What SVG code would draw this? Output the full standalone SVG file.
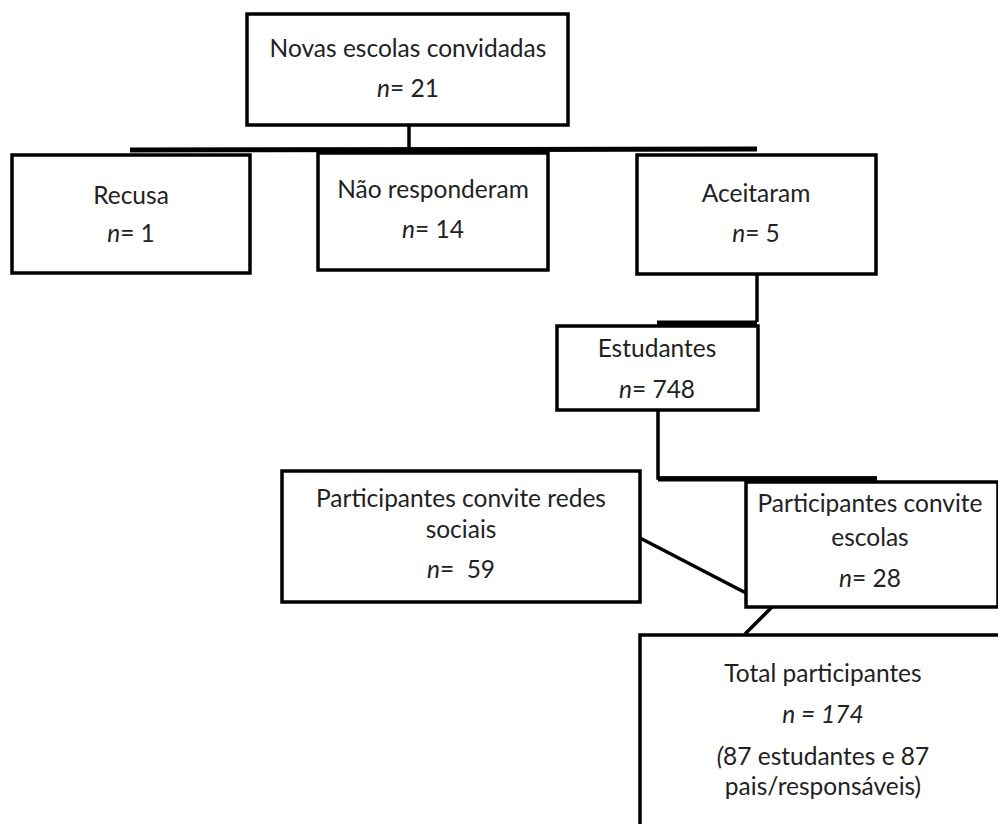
<svg xmlns="http://www.w3.org/2000/svg" width="998" height="824" viewBox="0 0 998 824">
<style>
.box{fill:#fff;stroke:#000;stroke-width:3.5}
.c{fill:none;stroke:#000;stroke-width:3.5}
.ct{fill:none;stroke:#000;stroke-width:5}
text{font-family:Lato,"Open Sans","Liberation Sans",sans-serif;font-size:24.5px;fill:#222;text-anchor:middle}
.i{font-style:italic}
</style>
<rect width="998" height="824" fill="#fff"/>
<g id="connectors">
<polyline class="c" points="409,125 409,148"/>
<polyline class="ct" points="130,150 757,149"/>
<polyline class="c" points="757,274 757,322"/>
<polyline class="ct" points="657,323 757,323"/>
<polyline class="c" points="658,410 658,478 877,478"/>
<polyline class="ct" points="658,479 877,479"/>
<line class="c" x1="640" y1="538" x2="746" y2="593"/>
<line class="c" x1="772" y1="607" x2="745" y2="634"/>
</g>
<g id="n-novas">
<rect class="box" x="247" y="14" width="321" height="111"/>
<text x="408" y="57">Novas escolas convidadas</text>
<text x="408" y="97"><tspan class="i">n</tspan>= 21</text>
</g>
<g id="n-recusa">
<rect class="box" x="12" y="155" width="238" height="118"/>
<text x="131" y="204">Recusa</text>
<text x="131" y="242"><tspan class="i">n</tspan>= 1</text>
</g>
<g id="n-naoresp">
<rect class="box" x="318" y="153" width="230" height="117"/>
<text x="433" y="198">Não responderam</text>
<text x="433" y="238"><tspan class="i">n</tspan>= 14</text>
</g>
<g id="n-aceitaram">
<rect class="box" x="637" y="155" width="239" height="119"/>
<text x="756" y="202">Aceitaram</text>
<text x="756" y="242"><tspan class="i">n</tspan>= 5</text>
</g>
<g id="n-estudantes">
<rect class="box" x="557" y="326" width="201" height="84"/>
<text x="657" y="357">Estudantes</text>
<text x="657" y="398"><tspan class="i">n</tspan>= 748</text>
</g>
<g id="n-redes">
<rect class="box" x="282" y="471" width="358" height="131"/>
<text x="461" y="507">Participantes convite redes</text>
<text x="461" y="538">sociais</text>
<text x="461" y="578" xml:space="preserve"><tspan class="i">n</tspan>=  59</text>
</g>
<g id="n-escolas">
<rect class="box" x="746" y="482" width="252" height="125"/>
<text x="870" y="512">Participantes convite</text>
<text x="870" y="546">escolas</text>
<text x="870" y="587"><tspan class="i">n</tspan>= 28</text>
</g>
<g id="n-total">
<rect class="box" x="640" y="635" width="362" height="200"/>
<text x="823" y="682">Total participantes</text>
<text x="823" y="723" class="i">n = 174</text>
<text x="823" y="765"><tspan class="i">(</tspan>87 estudantes e 87</text>
<text x="823" y="795">pais/responsáveis)</text>
</g>
</svg>
